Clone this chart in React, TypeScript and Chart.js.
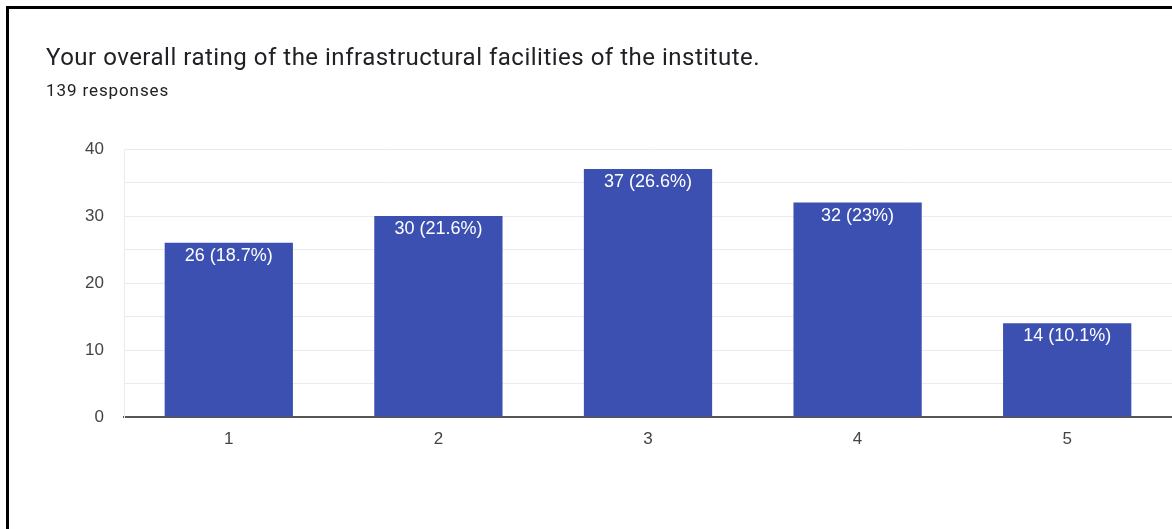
import React, { useEffect, useRef } from "react";
import { Chart, registerables } from "chart.js";

Chart.register(...registerables);

const categories = ["1", "2", "3", "4", "5"];
const counts = [26, 30, 37, 32, 14];
const pctLabels = ["18.7%", "21.6%", "26.6%", "23%", "10.1%"];
const titleText = "Your overall rating of the infrastructural facilities of the institute.";
const subtitleText = "139 responses";

const W = 1172;
const H = 529;
const FONT = "'Liberation Sans', Arial, sans-serif";

export default function App() {
  const ref = useRef<HTMLCanvasElement | null>(null);

  useEffect(() => {
    if (!ref.current) return;
    const labelPlugin = {
      id: "barLabels",
      afterDatasetsDraw(chart: any) {
        const ctx = chart.ctx;
        const meta = chart.getDatasetMeta(0);
        ctx.save();
        ctx.fillStyle = "#ffffff";
        ctx.font = `18px ${FONT}`;
        ctx.textAlign = "center";
        ctx.textBaseline = "top";
        meta.data.forEach((bar: any, i: number) => {
          ctx.fillText(`${counts[i]} (${pctLabels[i]})`, bar.x, bar.y + 4);
        });
        ctx.restore();
      },
    };
    const chart = new Chart(ref.current, {
      type: "bar",
      data: {
        labels: categories,
        datasets: [
          {
            data: counts,
            backgroundColor: "#3c50b1",
            borderWidth: 0,
            barPercentage: 0.612,
            categoryPercentage: 1,
          },
        ],
      },
      options: {
        responsive: false,
        animation: false,
        layout: { padding: { top: 149, right: 0, left: 0, bottom: 0 } },
        plugins: {
          legend: { display: false },
          tooltip: { enabled: false },
          title: { display: false },
        },
        scales: {
          x: {
            grid: { display: false, drawTicks: false },
            border: { color: "#555555", width: 2 },
            ticks: {
              color: "#444444",
              font: { family: FONT, size: 17 },
              padding: 12,
            },
            afterFit: (s: any) => {
              s.height = H - 417;
            },
          },
          y: {
            min: 0,
            max: 40,
            grid: { color: "#ebebeb", lineWidth: 1, drawTicks: false },
            border: { color: "#ebebeb", width: 1 },
            ticks: {
              stepSize: 5,
              color: "#444444",
              font: { family: FONT, size: 17 },
              padding: 20,
              callback: (v: any) => (Number(v) % 10 === 0 ? String(v) : ""),
            },
            afterFit: (s: any) => {
              s.width = 124;
            },
          },
        },
      },
      plugins: [labelPlugin],
    });
    return () => chart.destroy();
  }, []);

  return (
    <div
      style={{
        position: "fixed",
        left: 0,
        top: 0,
        width: W,
        height: H,
        background: "#ffffff",
        overflow: "hidden",
      }}
    >
      <canvas
        ref={ref}
        width={W}
        height={H}
        style={{ position: "absolute", left: 0, top: 0, width: W, height: H }}
      />
      <div
        style={{
          position: "absolute",
          left: 6,
          top: 6,
          width: W,
          height: 3,
          background: "#000",
        }}
      />
      <div
        style={{
          position: "absolute",
          left: 6,
          top: 6,
          width: 3,
          height: H,
          background: "#000",
        }}
      />
      <div
        style={{
          position: "absolute",
          left: 46,
          top: 43,
          fontFamily: "Roboto, sans-serif",
          fontSize: 24,
          letterSpacing: "0.5px",
          lineHeight: "28px",
          color: "#202124",
          whiteSpace: "nowrap",
        }}
      >
        {titleText}
      </div>
      <div
        style={{
          position: "absolute",
          left: 46,
          top: 80,
          fontFamily: "Roboto, sans-serif",
          fontSize: 17,
          letterSpacing: "0.9px",
          lineHeight: "20px",
          color: "#202124",
          whiteSpace: "nowrap",
        }}
      >
        {subtitleText}
      </div>
    </div>
  );
}
